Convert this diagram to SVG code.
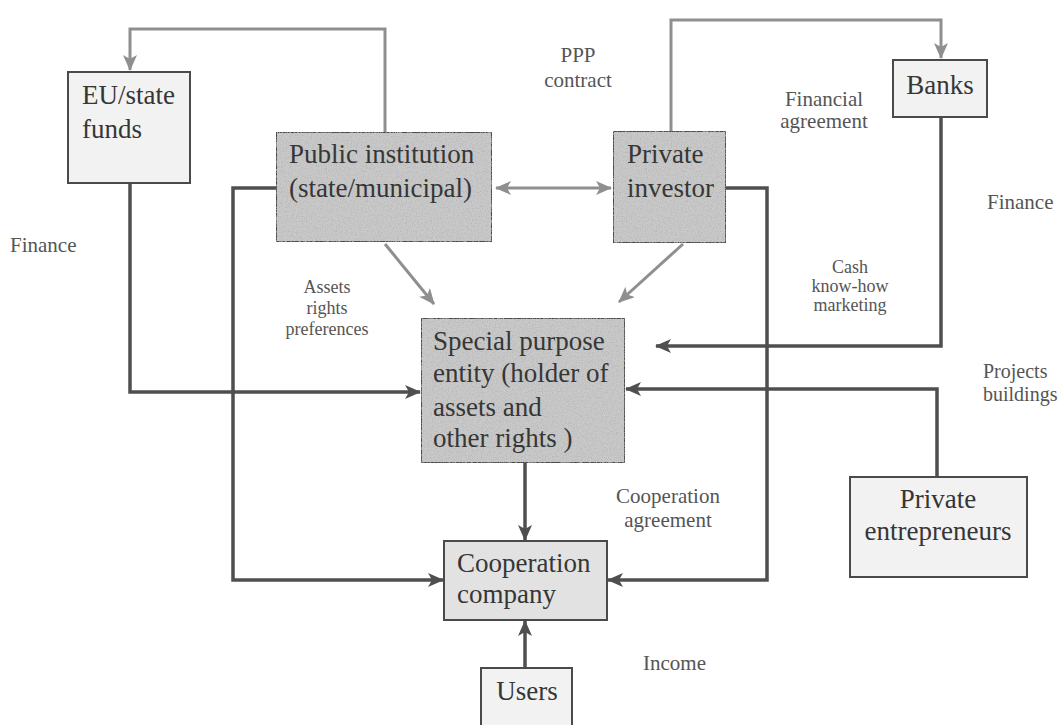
<svg xmlns="http://www.w3.org/2000/svg" width="1061" height="725" viewBox="0 0 1061 725">
  <style>
    .box { stroke: #4a4a4a; stroke-width: 2; }
    .dark { fill: #c9c9c9; }
    .light { fill: #f2f2f2; }
    .mid { fill: #e2e2e2; }
    .ntext { font-family: "Liberation Serif", "Times New Roman", serif; font-size: 27px; fill: #363636; }
    .lbl { font-family: "Liberation Serif", "Times New Roman", serif; font-size: 21px; fill: #555; }
    .small { font-size: 18px; }
    .conn { fill: none; stroke: #4f4f4f; stroke-width: 3.5; stroke-linejoin: miter; }
    .soft { fill: none; stroke: #8f8f8f; stroke-width: 3; stroke-linejoin: miter; }
  </style>
  <defs>
    <marker id="arrDark" markerUnits="userSpaceOnUse" markerWidth="16" markerHeight="14" viewBox="0 0 16 14" refX="15" refY="7" orient="auto">
      <path d="M0,0 L16,7 L0,14 L4,7 Z" fill="#4f4f4f"/>
    </marker>
    <marker id="arrSoft" markerUnits="userSpaceOnUse" markerWidth="16" markerHeight="14" viewBox="0 0 16 14" refX="15" refY="7" orient="auto-start-reverse">
      <path d="M0,0 L16,7 L0,14 L4,7 Z" fill="#8f8f8f"/>
    </marker>
    <!-- speckled paper texture for the shaded boxes -->
    <filter id="grain" x="0" y="0" width="100%" height="100%">
      <feTurbulence type="fractalNoise" baseFrequency="0.8" numOctaves="2" seed="4" result="noise"/>
      <feColorMatrix in="noise" type="matrix" values="0 0 0 0 0.45  0 0 0 0 0.45  0 0 0 0 0.45  0 0 0 -2.2 1.25" result="dots"/>
      <feComposite in="dots" in2="SourceGraphic" operator="in" result="clipped"/>
      <feMerge>
        <feMergeNode in="SourceGraphic"/>
        <feMergeNode in="clipped"/>
      </feMerge>
    </filter>
  </defs>
  <rect width="1061" height="725" fill="#ffffff"/>

  <!-- connectors -->
  <g id="connectors">
    <path class="soft" d="M385,132 V29 H130 V70" marker-end="url(#arrSoft)"/>
    <path class="soft" d="M671,131 V20 H941 V58" marker-end="url(#arrSoft)"/>
    <path class="soft" d="M496,188 H611" marker-start="url(#arrSoft)" marker-end="url(#arrSoft)"/>
    <path class="soft" d="M385,244 L434,304" marker-end="url(#arrSoft)"/>
    <path class="soft" d="M683,244 L619,302" marker-end="url(#arrSoft)"/>
    <path class="conn" d="M130,183 V392 H420" marker-end="url(#arrDark)"/>
    <path class="conn" d="M276,188 H233 V580 H443" marker-end="url(#arrDark)"/>
    <path class="conn" d="M726,188 H767 V580 H608" marker-end="url(#arrDark)"/>
    <path class="conn" d="M941,117 V346 H656" marker-end="url(#arrDark)"/>
    <path class="conn" d="M937,477 V389 H626" marker-end="url(#arrDark)"/>
    <path class="conn" d="M525,463 V540" marker-end="url(#arrDark)"/>
    <path class="conn" d="M525,668 V621" marker-end="url(#arrDark)"/>
  </g>

  <!-- edge labels -->
  <g id="labels" class="lbl">
    <text x="578" y="62" text-anchor="middle">PPP</text>
    <text x="578" y="87" text-anchor="middle">contract</text>
    <text x="824" y="106" text-anchor="middle">Financial</text>
    <text x="824" y="128" text-anchor="middle">agreement</text>
    <text x="10" y="252">Finance</text>
    <text x="987" y="209">Finance</text>
    <text class="small" x="327" y="293" text-anchor="middle">Assets</text>
    <text class="small" x="327" y="314" text-anchor="middle">rights</text>
    <text class="small" x="327" y="335" text-anchor="middle">preferences</text>
    <text class="small" x="850" y="273" text-anchor="middle">Cash</text>
    <text class="small" x="850" y="292" text-anchor="middle">know-how</text>
    <text class="small" x="850" y="311" text-anchor="middle">marketing</text>
    <text x="983" y="378" font-size="20">Projects</text>
    <text x="983" y="401" font-size="20">buildings</text>
    <text x="668" y="503" text-anchor="middle">Cooperation</text>
    <text x="668" y="527" text-anchor="middle">agreement</text>
    <text x="643" y="670">Income</text>
  </g>

  <!-- nodes -->
  <g id="eu-funds">
    <rect class="box light" x="68" y="72" width="122" height="111"/>
    <text class="ntext" x="82" y="104">EU/state</text>
    <text class="ntext" x="82" y="138">funds</text>
  </g>
  <g id="public-institution">
    <rect class="box dark" x="276" y="132" width="216" height="110" filter="url(#grain)"/>
    <text class="ntext" x="289" y="163">Public institution</text>
    <text class="ntext" x="289" y="197">(state/municipal)</text>
  </g>
  <g id="private-investor">
    <rect class="box dark" x="613" y="131" width="113" height="112" filter="url(#grain)"/>
    <text class="ntext" x="627" y="163">Private</text>
    <text class="ntext" x="627" y="197">investor</text>
  </g>
  <g id="banks">
    <rect class="box light" x="893" y="60" width="94" height="57"/>
    <text class="ntext" x="940" y="94" text-anchor="middle">Banks</text>
  </g>
  <g id="spe">
    <rect class="box dark" x="421" y="318" width="204" height="145" filter="url(#grain)"/>
    <text class="ntext" x="433" y="350">Special purpose</text>
    <text class="ntext" x="433" y="382">entity (holder of</text>
    <text class="ntext" x="433" y="416">assets and</text>
    <text class="ntext" x="433" y="447">other rights )</text>
  </g>
  <g id="private-entrepreneurs">
    <rect class="box light" x="850" y="477" width="177" height="100"/>
    <text class="ntext" x="938" y="508" text-anchor="middle">Private</text>
    <text class="ntext" x="938" y="540" text-anchor="middle">entrepreneurs</text>
  </g>
  <g id="cooperation-company">
    <rect class="box mid" x="444" y="541" width="163" height="79"/>
    <text class="ntext" x="457" y="572">Cooperation</text>
    <text class="ntext" x="457" y="603">company</text>
  </g>
  <g id="users">
    <rect class="box light" x="481" y="668" width="91" height="70"/>
    <text class="ntext" x="527" y="700" text-anchor="middle">Users</text>
  </g>
</svg>
